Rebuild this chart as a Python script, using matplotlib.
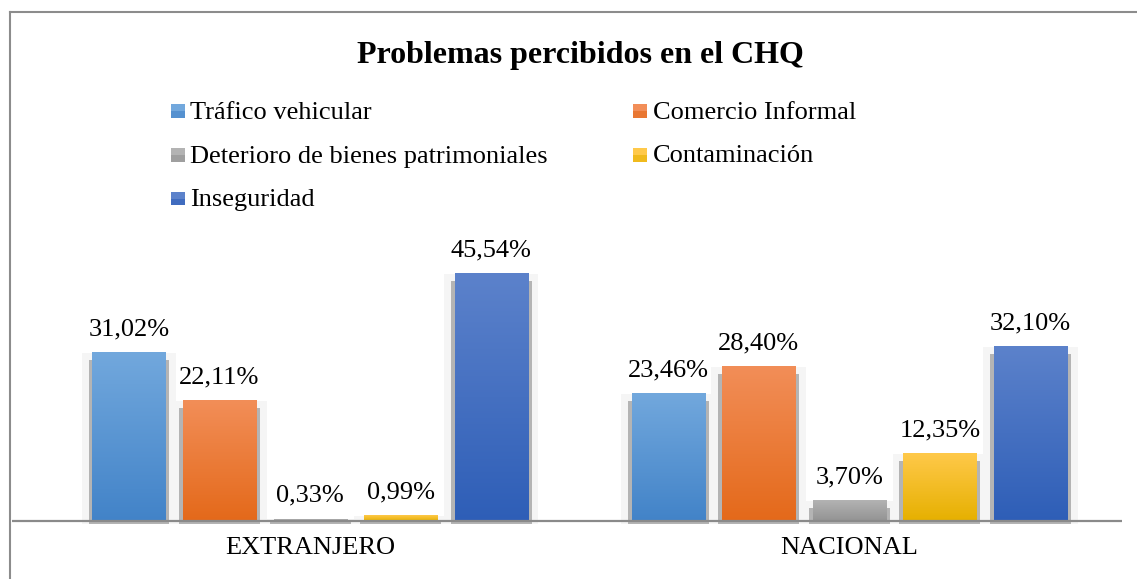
import matplotlib
matplotlib.use('Agg')
import matplotlib.pyplot as plt
import numpy as np
from matplotlib.patches import Rectangle
from matplotlib.lines import Line2D
from matplotlib.colors import LinearSegmentedColormap

# ---------------- data ----------------
categories = ['EXTRANJERO', 'NACIONAL']
series = ['Tráfico vehicular', 'Comercio Informal',
          'Deterioro de bienes patrimoniales', 'Contaminación', 'Inseguridad']
extranjero = [31.02, 22.11, 0.33, 0.99, 45.54]
nacional = [23.46, 28.40, 3.70, 12.35, 32.10]
title = 'Problemas percibidos en el CHQ'

# ---------------- style ----------------
top_colors = ['#72A8DD', '#F28E58', '#B3B3B3', '#FFC94A', '#5C82CB']
bot_colors = ['#4283C8', '#E4691A', '#939393', '#E6B000', '#2E5EB7']
FONT = 'Liberation Serif'
plt.rcParams['font.family'] = [FONT, 'DejaVu Serif']

W, H = 1137, 579
fig = plt.figure(figsize=(W / 100, H / 100), dpi=100)

ppu_y = 5.43
ymin, ymax = -0.6, 50
ax_bottom_px = 521 + (-ymin) * ppu_y
ax = fig.add_axes([12 / W, (H - ax_bottom_px) / H, 1110 / W, (ymax - ymin) * ppu_y / H])
ax.set_xlim(-0.553, 1.506)
ax.set_ylim(ymin, ymax)

x = np.arange(len(categories))
step = 0.168
width = 0.1355
values = np.array([extranjero, nacional]).T  # series x categories

grad = np.linspace(1, 0, 256).reshape(-1, 1)
for i, name in enumerate(series):
    xs = x + (i - 2) * step
    vals = values[i]
    # soft glow and shadow
    ax.bar(xs, [v + 0.55 for v in vals], width=0.175, bottom=-0.55,
           color='#F5F5F5', zorder=1, linewidth=0)
    ax.bar(xs, [max(v - 1.3, 0) + 0.55 for v in vals], width=0.150, bottom=-0.55,
           color='#B4B4B4', zorder=2, linewidth=0)
    cont = ax.bar(xs, vals, width=width, color=bot_colors[i], zorder=3,
                  linewidth=0, label=name)
    cmap = LinearSegmentedColormap.from_list('c%d' % i, [bot_colors[i], top_colors[i]])
    for p in cont.patches:
        x0 = p.get_x(); w = p.get_width(); h = p.get_height()
        ax.imshow(grad, extent=[x0, x0 + w, 0, h], aspect='auto', cmap=cmap,
                  vmin=0, vmax=1, zorder=4, interpolation='bilinear')
    ax.bar_label(cont, labels=[f"{v:.2f}".replace('.', ',') + '%' for v in vals],
                 padding=9, fontsize=19, fontfamily=FONT, color='#000000')

ax.set_xlim(-0.553, 1.506)
ax.set_ylim(ymin, ymax)
ax.axhline(0, color='#8A8A8A', lw=1.6, zorder=5)
ax.set_yticks([])
ax.set_xticks(x)
ax.set_xticklabels(categories, fontsize=19, fontfamily=FONT)
ax.tick_params(axis='x', length=0, pad=9.5)
for s in ax.spines.values():
    s.set_visible(False)
ax.set_facecolor('none')

# title
fig.text(580 / W, 1 - 62.5 / H, title, ha='center', va='baseline',
         fontsize=23, fontweight='bold', fontfamily=FONT)

# legend (row-wise order as in the reference)
col_marker_x = [171, 633]
col_text_x = [190, 653]
row_base = [118.5, 162.5, 206]
for i, name in enumerate(series):
    r, c = divmod(i, 2)
    b = row_base[r]
    mx = col_marker_x[c]
    fig.patches.append(Rectangle((mx / W, 1 - (b - 1) / H), 14 / W, 13 / H,
                                 transform=fig.transFigure, facecolor=top_colors[i],
                                 edgecolor='none'))
    fig.patches.append(Rectangle((mx / W, 1 - (b - 1) / H), 14 / W, 6 / H,
                                 transform=fig.transFigure, facecolor=bot_colors[i],
                                 edgecolor='none', alpha=0.6))
    fig.text(col_text_x[c] / W, 1 - b / H, name, ha='left', va='baseline',
             fontsize=19, fontfamily=FONT)

# outer frame (top and left edges visible)
fig.add_artist(Line2D([10 / W, 1.0], [1 - 12 / H, 1 - 12 / H], transform=fig.transFigure,
                      color='#8C8C8C', lw=1.5))
fig.add_artist(Line2D([10 / W, 10 / W], [0, 1 - 12 / H], transform=fig.transFigure,
                      color='#8C8C8C', lw=1.5))

fig.savefig('out.png', dpi=100, facecolor='white')
